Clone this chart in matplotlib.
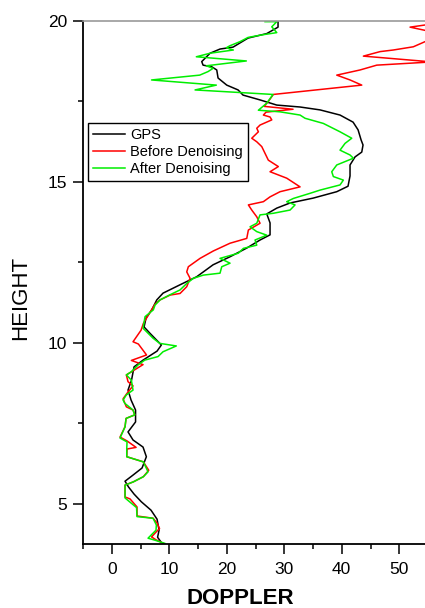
import matplotlib
matplotlib.use("Agg")
import matplotlib.pyplot as plt
from matplotlib.ticker import MultipleLocator

plt.rcParams['font.family'] = ['Liberation Sans', 'DejaVu Sans']

# ---- data (DOPPLER on x, HEIGHT on y) ----
gps_height = [20.00, 19.80, 19.60, 19.46, 19.18, 19.12, 18.99, 18.73, 18.62, 18.57,
              18.47, 18.22, 18.00, 17.85, 17.69, 17.54, 17.38, 17.32, 17.23, 17.07,
              16.85, 16.61, 16.30, 16.14, 15.92, 15.77, 15.52, 15.18, 14.86, 14.69,
              14.49, 14.34, 14.18, 14.00, 13.72, 13.35, 13.19, 12.94, 12.67, 12.42,
              12.05, 11.80, 11.54, 11.33, 11.02, 10.77, 10.49, 10.30, 9.93, 9.74,
              9.46, 9.25, 8.84, 8.53, 8.22, 7.91, 7.54, 7.23, 6.98, 6.76,
              6.46, 6.11, 5.89, 5.70, 5.52, 5.30, 5.06, 4.80, 4.52, 4.18,
              3.96, 3.81]
gps_doppler = [28.92, 28.92, 26.96, 23.70, 21.10, 18.83, 17.10, 15.65, 15.88, 17.39,
               18.26, 18.49, 20.00, 21.97, 22.83, 25.79, 28.70, 32.75, 36.23, 39.70,
               41.97, 42.84, 43.36, 43.70, 43.48, 42.31, 41.44, 41.44, 41.09, 39.13,
               35.01, 31.01, 28.70, 26.96, 27.53, 27.53, 25.79, 23.48, 20.57, 17.62,
               14.78, 11.88, 8.92, 7.83, 6.96, 5.97, 5.62, 6.61, 8.63, 7.88,
               5.44, 3.88, 3.44, 2.83, 3.36, 4.14, 4.14, 2.83, 3.70, 5.44,
               6.02, 5.27, 3.70, 2.31, 2.92, 3.88, 5.15, 6.83, 7.88, 8.23,
               7.97, 8.57]

before_height = [20.00, 19.88, 19.80, 19.68, 19.52, 19.35, 19.19, 19.09, 19.04, 18.90,
                 18.72, 18.62, 18.47, 18.31, 18.16, 18.00, 17.71, 17.48, 17.34, 17.25,
                 17.16, 17.07, 17.01, 16.92, 16.76, 16.66, 16.55, 16.35, 16.24, 16.09,
                 15.88, 15.67, 15.47, 15.31, 15.11, 14.84, 14.69, 14.53, 14.38, 14.28,
                 14.12, 13.91, 13.71, 13.50, 13.24, 13.09, 12.85, 12.62, 12.36, 12.20,
                 12.00, 11.74, 11.53, 11.48, 11.33, 11.20, 10.86, 10.60, 10.39, 10.03,
                 9.96, 9.62, 9.45, 9.32, 9.00, 8.79, 8.66, 8.47, 8.26, 8.01,
                 7.91, 7.76, 7.65, 7.39, 7.07, 6.95, 6.75, 6.70, 6.46, 6.30,
                 6.04, 5.84, 5.68, 5.58, 5.21, 5.15, 4.90, 4.62, 4.55, 4.40,
                 4.23, 4.12, 3.97, 3.88, 3.76]
before_doppler = [60.57, 55.01, 51.88, 55.01, 57.97, 54.49, 52.45, 48.97, 46.66, 43.76,
                  55.70, 46.09, 43.18, 39.13, 41.44, 43.48, 28.10, 27.18, 26.49, 31.53,
                  26.83, 26.37, 27.53, 27.83, 25.79, 25.22, 25.50, 24.35, 25.22, 26.09,
                  26.66, 27.23, 28.97, 27.53, 30.43, 32.75, 29.27, 27.53, 26.37, 23.76,
                  24.35, 25.22, 25.79, 23.76, 23.48, 20.57, 17.67, 15.36, 13.32, 13.04,
                  13.62, 13.04, 11.88, 10.14, 8.40, 7.53, 6.37, 5.50, 5.10, 3.70,
                  4.63, 6.05, 3.41, 5.44, 2.54, 2.83, 3.70, 2.83, 1.97, 2.54,
                  3.70, 4.00, 2.49, 2.31, 1.44, 2.66, 4.23, 2.66, 2.61, 5.50,
                  6.43, 5.50, 3.76, 2.31, 2.31, 3.18, 4.40, 4.40, 7.18, 7.88,
                  8.31, 7.70, 6.92, 7.70, 9.10]

after_height = [19.97, 19.97, 19.81, 19.63, 19.56, 19.48, 19.35, 19.22, 19.16, 19.09,
                18.99, 18.88, 18.75, 18.60, 18.52, 18.42, 18.31, 18.16, 18.00, 17.85,
                17.71, 17.44, 17.22, 17.17, 17.07, 16.97, 16.81, 16.55, 16.35, 16.19,
                15.98, 15.83, 15.73, 15.52, 15.31, 15.16, 15.05, 14.90, 14.74, 14.64,
                14.48, 14.38, 14.28, 14.12, 14.02, 13.97, 13.71, 13.60, 13.45, 13.34,
                13.19, 13.03, 12.93, 12.78, 12.62, 12.47, 12.36, 12.16, 12.10, 12.00,
                11.84, 11.64, 11.49, 11.33, 11.17, 11.02, 10.81, 10.45, 10.14, 9.98,
                9.90, 9.72, 9.57, 9.46, 9.31, 9.10, 9.00, 8.84, 8.53, 8.38,
                8.22, 8.12, 7.91, 7.76, 7.65, 7.39, 7.04, 6.92, 6.72, 6.46,
                6.30, 5.99, 5.84, 5.68, 5.58, 5.18, 4.88, 4.60, 4.55, 4.34,
                4.18, 3.93, 3.87, 3.77]
after_doppler = [26.66, 28.70, 27.83, 28.70, 26.14, 23.70, 22.31, 20.52, 19.93, 21.15,
                 17.10, 14.71, 23.41, 16.45, 17.62, 16.75, 15.30, 6.92, 18.19, 14.49,
                 28.05, 26.96, 25.50, 29.27, 32.75, 33.62, 36.80, 39.70, 41.74, 40.57,
                 39.70, 41.44, 42.02, 39.13, 38.26, 38.54, 40.28, 39.70, 36.23, 34.49,
                 31.58, 30.43, 31.88, 31.01, 28.10, 25.79, 25.22, 24.05, 25.22, 26.96,
                 24.92, 25.22, 22.89, 22.02, 18.83, 20.57, 19.13, 18.83, 15.93, 14.19,
                 13.04, 11.88, 10.14, 8.40, 7.53, 7.23, 5.79, 5.44, 7.18, 8.35,
                 11.23, 8.92, 8.05, 5.74, 4.57, 3.41, 2.54, 3.41, 3.70, 2.54,
                 1.97, 2.26, 3.70, 4.00, 2.49, 2.31, 1.44, 2.66, 2.61, 2.61,
                 5.50, 6.31, 5.50, 3.76, 2.31, 2.31, 4.31, 4.40, 7.18, 7.76,
                 7.70, 6.31, 7.48, 9.22]

x_ticks = [0, 10, 20, 30, 40, 50]
y_ticks = [5, 10, 15, 20]

fig = plt.figure(figsize=(4.25, 6.08), dpi=100)
ax = fig.add_axes([83 / 425, (608 - 544) / 608, 345 / 425, 523.3 / 608])

ax.plot(gps_doppler, gps_height, color='black', lw=1.1, label='GPS')
ax.plot(before_doppler, before_height, color='#ff0000', lw=1.1, label='Before Denoising')
ax.plot(after_doppler, after_height, color='#00ee00', lw=1.1, label='After Denoising')

ax.set_xlim(-5, 55)
ax.set_ylim(3.75, 20)
ax.set_xticks(x_ticks)
ax.set_yticks(y_ticks)
ax.xaxis.set_minor_locator(MultipleLocator(5))
ax.yaxis.set_minor_locator(MultipleLocator(2.5))
ax.tick_params(which='major', direction='out', length=7.5, width=1.1, labelsize=12.5, color='black')
ax.tick_params(which='minor', direction='out', length=3.8, width=1.1, color='black')
ax.tick_params(axis='x', pad=5.5)
ax.tick_params(axis='y', pad=4)

for s in ['left', 'bottom']:
    ax.spines[s].set_linewidth(1.3)
    ax.spines[s].set_color('black')
ax.spines['top'].set_color('#9a9a9a')
ax.spines['top'].set_linewidth(1.2)
ax.spines['right'].set_visible(False)

leg = ax.legend(loc='upper left', bbox_to_anchor=(0.0136, 0.8045), borderaxespad=0,
                fontsize=10.5, frameon=True, fancybox=False, framealpha=1,
                edgecolor='black', handlelength=2.2, handletextpad=0.35,
                labelspacing=0.2, borderpad=0.35)
leg.get_frame().set_linewidth(1.0)

fig.text(20.7 / 425, 1 - 297.5 / 608, 'HEIGHT', rotation=90, fontsize=16,
         ha='center', va='center')
fig.text(240 / 425, 1 - 599 / 608, 'DOPPLER', fontsize=16, fontweight='bold',
         ha='center', va='center')

fig.savefig('out.png', dpi=100, facecolor='white')
